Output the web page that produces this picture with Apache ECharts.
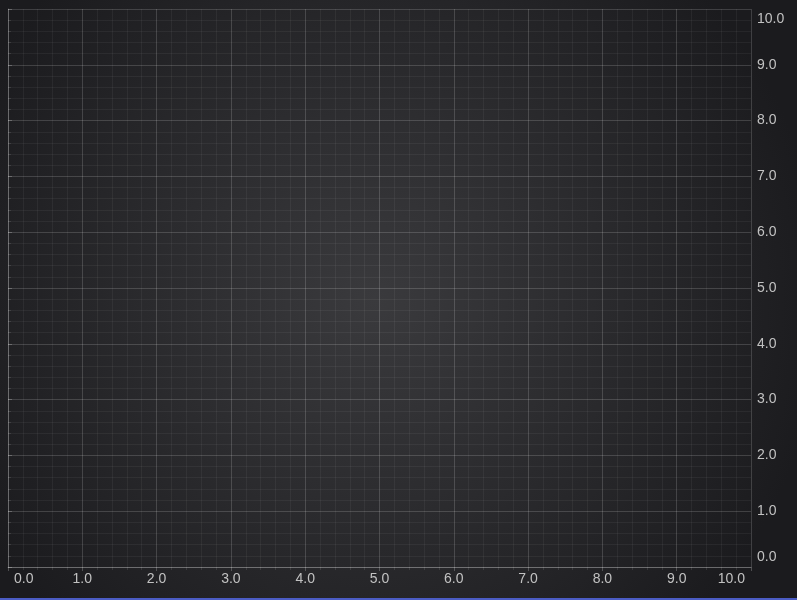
<!DOCTYPE html>
<html>
<head>
<meta charset="utf-8">
<script src="https://cdn.jsdelivr.net/npm/echarts@6/dist/echarts.min.js"></script>
<style>
    html, body { margin: 0; padding: 0; background: #1e1e20; }
    #main { width: 797px; height: 600px; }
</style>
</head>
<body>
<div id="main"></div>
<script>
    // axis ranges and ticks
    const xRange = [0, 10];
    const yRange = [0, 10];
    const majorStep = 1;
    const minorSplits = 5;
    // the chart has no data
    const seriesData = [];

    const chart = echarts.init(document.getElementById('main'));

    const labelStyle = {
        color: '#c2c2c2',
        fontSize: 14,
        fontFamily: 'Liberation Sans, Arial, sans-serif',
        formatter: function (v) { return v.toFixed(1); }
    };
    const majorLine = { lineStyle: { color: 'rgba(255,255,255,0.16)', width: 1 } };
    const minorLine = { show: true, lineStyle: { color: 'rgba(255,255,255,0.05)', width: 1 } };

    const option = {
        animation: false,
        backgroundColor: {
            type: 'radial', x: 0.47, y: 0.5, r: 0.75,
            colorStops: [
                { offset: 0, color: '#3a3a3d' },
                { offset: 1, color: '#1b1b1e' }
            ]
        },
        grid: { left: 8, right: 46, top: 9, bottom: 33 },
        xAxis: {
            type: 'value',
            min: xRange[0], max: xRange[1], interval: majorStep,
            axisLine: { show: true, lineStyle: { color: 'rgba(255,255,255,0.22)' } },
            axisTick: { show: true, length: 4, lineStyle: { color: 'rgba(255,255,255,0.22)' } },
            minorTick: { show: true, splitNumber: minorSplits, length: 3, lineStyle: { color: 'rgba(255,255,255,0.1)' } },
            axisLabel: Object.assign({}, labelStyle, {
                margin: 5,
                alignMinLabel: 'left',
                alignMaxLabel: 'right',
                padding: [0, 6, 0, 6]
            }),
            splitLine: majorLine,
            minorSplitLine: minorLine
        },
        yAxis: {
            type: 'value',
            position: 'right',
            min: yRange[0], max: yRange[1], interval: majorStep,
            axisLine: { show: true, lineStyle: { color: 'rgba(255,255,255,0.22)' } },
            axisTick: { show: true, length: 4, lineStyle: { color: 'rgba(255,255,255,0.22)' } },
            minorTick: { show: true, splitNumber: minorSplits, length: 3, lineStyle: { color: 'rgba(255,255,255,0.1)' } },
            axisLabel: Object.assign({}, labelStyle, {
                margin: 6,
                verticalAlignMinLabel: 'bottom',
                verticalAlignMaxLabel: 'top',
                padding: [3, 0, 3, 0]
            }),
            splitLine: majorLine,
            minorSplitLine: minorLine
        },
        graphic: [
            {
                type: 'rect', left: 0, bottom: 0,
                shape: { width: 797, height: 2 },
                style: { fill: '#4b5cc4' },
                silent: true
            }
        ],
        series: [
            { type: 'scatter', data: seriesData }
        ]
    };
    chart.setOption(option);
</script>
</body>
</html>
